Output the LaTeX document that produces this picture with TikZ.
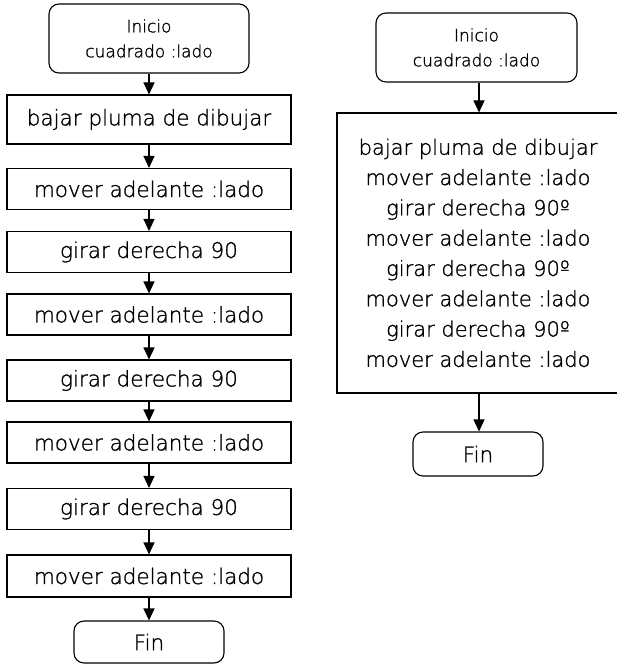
\documentclass[tikz,border=0pt]{standalone}
\usepackage{fontspec}
\IfFontExistsTF{DejaVu Sans ExtraLight}{\setmainfont{DejaVu Sans ExtraLight}[FakeBold=1.2,AutoFakeBold=1.2]}{\setmainfont{DejaVu Sans}}
\usetikzlibrary{arrows.meta}
\begin{document}
\begin{tikzpicture}[x=1pt,y=-1pt,
  proc/.style={draw, line width=1.1pt, rectangle, inner sep=0pt, align=center,
    font=\fontsize{21.5}{30.3}\selectfont\bfseries},
  term/.style={draw, line width=1.1pt, rounded corners=10pt, inner sep=0pt, align=center},
  flow/.style={line width=1.1pt, -{Triangle[width=11pt,length=12pt]}}]
\useasboundingbox (0,0) rectangle (617,666);
% left column
\node[term, minimum width=200pt, minimum height=69pt, font=\fontsize{17}{25}\selectfont\bfseries] (iniL) at (149,38.5) {Inicio\\cuadrado :lado};
\node[proc, minimum width=284pt, minimum height=49pt] (b1) at (149,119.5) {bajar pluma de dibujar};
\node[proc, minimum width=284pt, minimum height=41pt] (b2) at (149,189) {mover adelante :lado};
\node[proc, minimum width=284pt, minimum height=41pt] (b3) at (149,252) {girar derecha 90};
\node[proc, minimum width=284pt, minimum height=41pt] (b4) at (149,314.5) {mover adelante :lado};
\node[proc, minimum width=284pt, minimum height=41pt] (b5) at (149,380.5) {girar derecha 90};
\node[proc, minimum width=284pt, minimum height=41pt] (b6) at (149,442.5) {mover adelante :lado};
\node[proc, minimum width=284pt, minimum height=41pt] (b7) at (149,509) {girar derecha 90};
\node[proc, minimum width=284pt, minimum height=42pt] (b8) at (149,576) {mover adelante :lado};
\node[term, minimum width=150pt, minimum height=42pt, font=\fontsize{21.5}{26}\selectfont\bfseries] (finL) at (149,642) {Fin};
\draw[flow] (iniL) -- (b1);
\draw[flow] (b1) -- (b2);
\draw[flow] (b2) -- (b3);
\draw[flow] (b3) -- (b4);
\draw[flow] (b4) -- (b5);
\draw[flow] (b5) -- (b6);
\draw[flow] (b6) -- (b7);
\draw[flow] (b7) -- (b8);
\draw[flow] (b8) -- (finL);
% right column
\coordinate (rx) at (479,0);
\node[term, minimum width=201pt, minimum height=69pt, font=\fontsize{17}{25}\selectfont\bfseries] (iniR) at (476.5,47.5) {Inicio\\cuadrado :lado};
\node[proc, minimum width=282pt, minimum height=280pt, font=\fontsize{21}{30.3}\selectfont\bfseries] (big) at (478,253)
  {bajar pluma de dibujar\\mover adelante :lado\\girar derecha 90º\\ mover adelante :lado\\girar derecha 90º\\mover adelante :lado\\girar derecha 90º\\mover adelante :lado};
\node[term, minimum width=130pt, minimum height=44pt, font=\fontsize{21.5}{26}\selectfont\bfseries] (finR) at (478,454) {Fin};
\draw[flow] (iniR.south -| rx) -- (big.north -| rx);
\draw[flow] (big.south -| rx) -- (finR.north -| rx);
\end{tikzpicture}
\end{document}
